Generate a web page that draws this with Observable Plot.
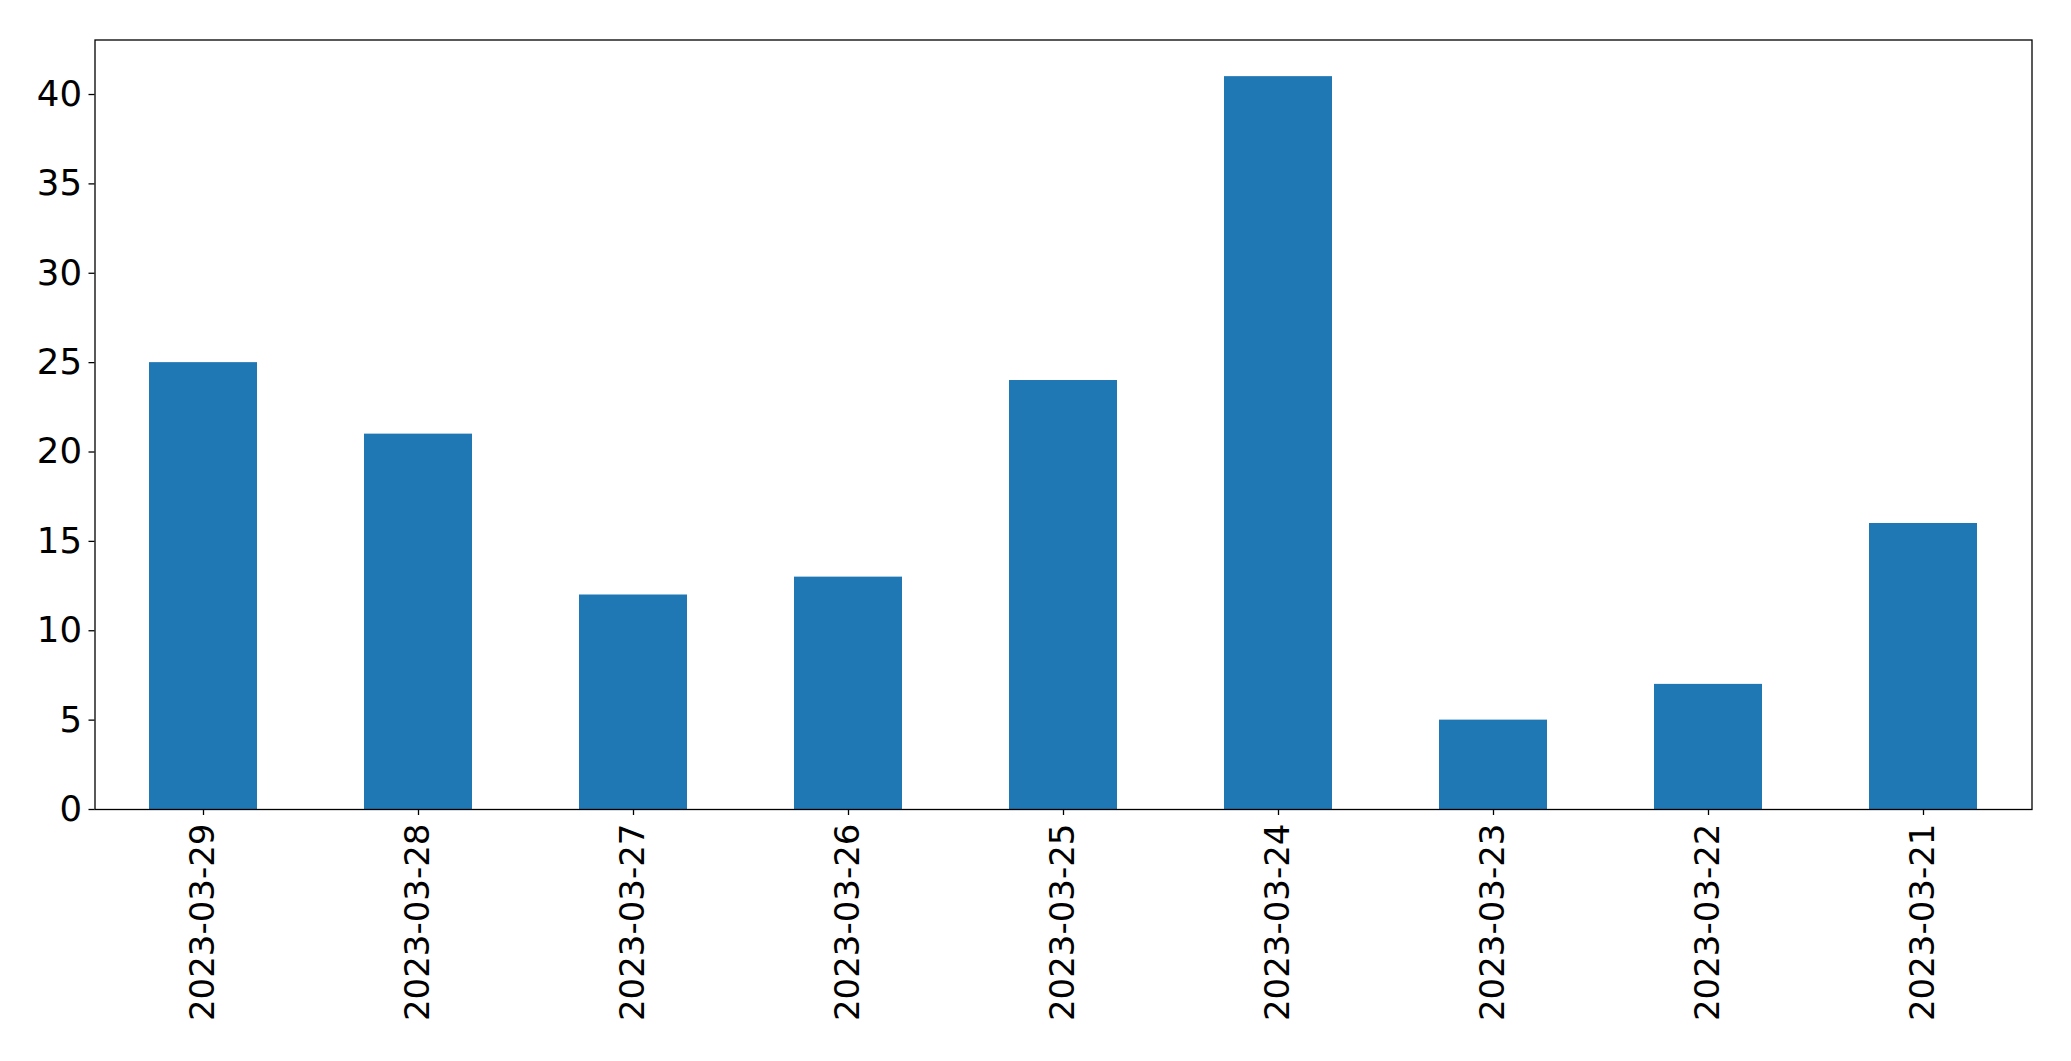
<!DOCTYPE html>
<html>
<head>
<meta charset="utf-8">
<script src="https://cdn.jsdelivr.net/npm/d3@7"></script>
<script src="https://cdn.jsdelivr.net/npm/@observablehq/plot@0.6"></script>
<style>
  html, body { margin: 0; padding: 0; background: #fff; }
  #chart svg { display: block; }
</style>
</head>
<body>
<div id="chart"></div>
<script>
const dates = ["2023-03-29","2023-03-28","2023-03-27","2023-03-26","2023-03-25","2023-03-24","2023-03-23","2023-03-22","2023-03-21"];
const counts = [25, 21, 12, 13, 24, 41, 5, 7, 16];
const yTicks = [0, 5, 10, 15, 20, 25, 30, 35, 40];

const data = dates.map((d, i) => ({date: d, count: counts[i]}));

const chart = Plot.plot({
  width: 2071,
  height: 1061,
  marginLeft: 94.5,
  marginRight: 39.5,
  marginTop: 39.5,
  marginBottom: 252,
  style: {fontFamily: "DejaVu Sans", fontSize: "34px", color: "#000", background: "#fff"},
  x: {type: "band", domain: dates, paddingInner: 0.5, paddingOuter: 0.25, align: 0.5, label: null},
  y: {domain: [0, 43.05], label: null},
  marks: [
    Plot.barY(data, {x: "date", y: "count", fill: "#1f77b4"}),
    Plot.frame({stroke: "#000", strokeWidth: 1.3}),
    Plot.axisY({ticks: yTicks, tickSize: 6, tickPadding: 7, fontSize: 35.5, label: null, tickFormat: d => String(d), strokeWidth: 1.3}),
    Plot.axisX({tickRotate: -90, tickSize: 6, tickPadding: 8, fontSize: 34, label: null, strokeWidth: 1.3})
  ]
});
document.getElementById("chart").appendChild(chart);
</script>
</body>
</html>
